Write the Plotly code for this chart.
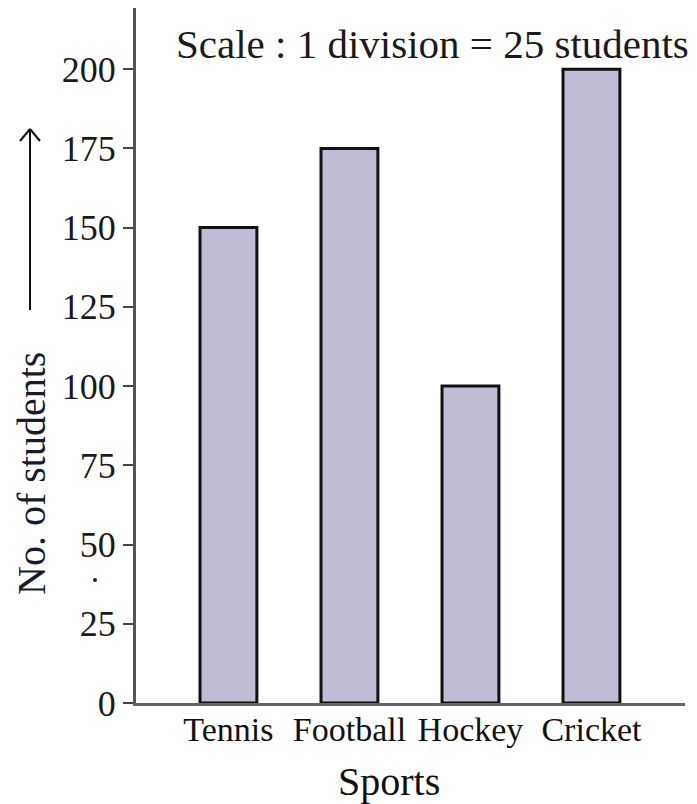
import plotly.graph_objects as go

sports = ["Tennis", "Football", "Hockey", "Cricket"]
students = [150, 175, 100, 200]
y_ticks = [0, 25, 50, 75, 100, 125, 150, 175, 200]

FONT = "Liberation Serif"
OFF = 8  # page body margin in the browser
W, H = 697 - OFF, 804 - OFF
L, R, T, B = 128, 12, 0, 101

fig = go.Figure()
fig.add_trace(go.Bar(
    x=list(range(len(sports))), y=students, width=0.47,
    marker=dict(color="#bfbcd3", line=dict(color="#111111", width=3)),
    hoverinfo="skip",
))

fig.update_layout(
    width=W, height=H,
    margin=dict(l=L, r=R, t=T, b=B, pad=0),
    paper_bgcolor="white", plot_bgcolor="white",
    showlegend=False,
    font=dict(family=FONT, size=36, color="#1a1a1a"),
    xaxis=dict(
        range=[-0.764, 3.773], tickmode="array",
        tickvals=list(range(len(sports))), ticktext=sports,
        showgrid=False, zeroline=False, showline=True,
        linecolor="#666666", linewidth=3, ticks="", automargin=False,
        tickangle=0, ticklabelstandoff=-6,
        tickfont=dict(family=FONT, size=34, color="#111111"),
    ),
    yaxis=dict(
        range=[0, 219.3], tickmode="array", tickvals=y_ticks,
        ticktext=[str(v) for v in y_ticks], automargin=False,
        showgrid=False, zeroline=False, showline=True,
        linecolor="#555555", linewidth=3,
        ticks="outside", ticklen=10, tickwidth=2, tickcolor="#444444",
        tickfont=dict(family=FONT, size=36, color="#1a1a1a"),
    ),
)

def px_x(sx):
    return (sx - OFF - L) / (W - L - R)

def px_y(sy):
    return (H - B - (sy - OFF)) / (H - T - B)

fig.add_annotation(
    text="Scale : 1 division = 25 students",
    xref="paper", yref="paper", x=px_x(432), y=px_y(44),
    showarrow=False, font=dict(family=FONT, size=41, color="#1a1a1a"),
    xanchor="center", yanchor="middle",
)
fig.add_annotation(
    text="Sports",
    xref="paper", yref="paper", x=px_x(389), y=px_y(781),
    showarrow=False, font=dict(family=FONT, size=40, color="#111111"),
    xanchor="center", yanchor="middle",
)
fig.add_annotation(
    text="No. of students",
    xref="paper", yref="paper", x=px_x(31), y=px_y(474),
    showarrow=False, textangle=-90,
    font=dict(family=FONT, size=40, color="#1a1a2e"),
    xanchor="center", yanchor="middle",
)
# arrow beside the axis title
ax_x = px_x(30)
line_style = dict(color="#111111", width=2)
fig.add_shape(type="line", xref="paper", yref="paper",
              x0=ax_x, x1=ax_x, y0=px_y(310), y1=px_y(129), line=line_style)
fig.add_shape(type="line", xref="paper", yref="paper",
              x0=ax_x, x1=px_x(20), y0=px_y(129), y1=px_y(141), line=line_style)
fig.add_shape(type="line", xref="paper", yref="paper",
              x0=ax_x, x1=px_x(40), y0=px_y(129), y1=px_y(141), line=line_style)
# small stray dot in the scan
fig.add_shape(type="circle", xref="paper", yref="paper",
              x0=px_x(93), x1=px_x(97), y0=px_y(582), y1=px_y(578),
              fillcolor="#1a1a6a", line=dict(width=0))

fig.write_html("out.html")
